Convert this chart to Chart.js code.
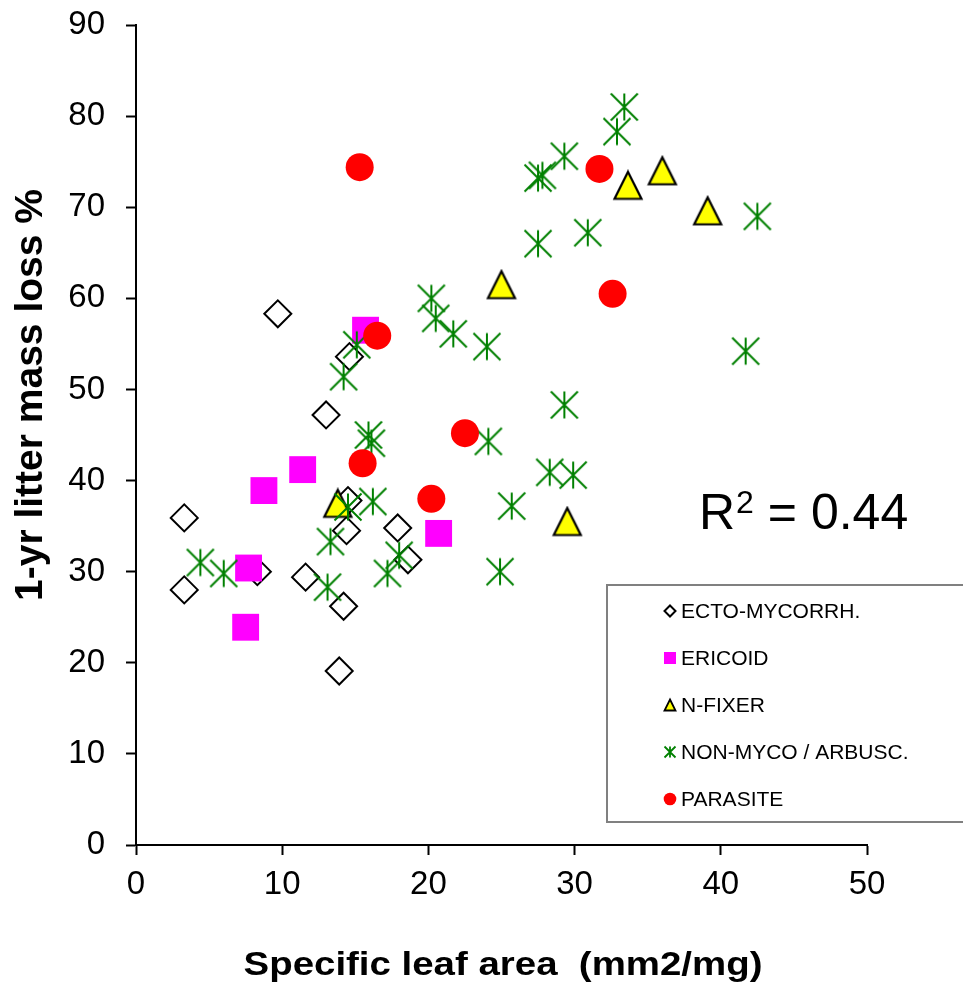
<!DOCTYPE html>
<html><head><meta charset="utf-8">
<script src="https://cdn.jsdelivr.net/npm/chart.js@4/dist/chart.umd.min.js"></script>
<style>html,body{margin:0;padding:0;background:#fff;}#wrap{width:963px;height:986px;position:relative;}canvas{display:block;}</style>
</head><body><div id="wrap"><canvas id="c" width="963" height="986"></canvas></div>
<script>
// ---- data ----
const seriesNames = ['ECTO-MYCORRH.', 'ERICOID', 'N-FIXER', 'NON-MYCO / ARBUSC.', 'PARASITE'];
const ectoX = [3.3, 3.3, 9.7, 8.3, 11.6, 13.0, 14.6, 13.9, 14.2, 14.4, 14.5, 17.9, 18.6];
const ectoY = [35.9, 28.0, 58.3, 30.0, 29.4, 47.2, 53.6, 19.1, 26.2, 34.5, 37.8, 34.8, 31.3];
const ericX = [8.75, 11.4, 7.7, 7.5, 15.7, 20.7];
const ericY = [38.9, 41.2, 30.4, 23.9, 56.5, 34.2];
const nfixX = [13.8, 25.0, 33.65, 36.0, 39.1, 29.5];
const nfixY = [37.5, 61.5, 72.4, 74.0, 69.6, 35.5];
const nonX = [4.4, 6.0, 13.3, 13.1, 14.2, 15.1, 15.9, 16.1, 14.5, 16.2, 18.0, 17.2, 20.2, 20.5, 21.7, 24.0, 29.3, 24.1, 28.3, 29.9, 25.7, 24.9, 27.5, 30.9, 27.5, 27.8, 29.3, 32.9, 33.4, 42.5, 41.7];
const nonY = [31.0, 29.8, 33.3, 28.3, 51.4, 54.9, 45.0, 44.1, 37.1, 37.7, 31.8, 29.8, 60.0, 57.8, 56.1, 54.7, 48.3, 44.3, 40.9, 40.6, 37.2, 30.0, 66.0, 67.2, 73.2, 73.5, 75.6, 78.3, 81.0, 69.0, 54.2];
const parX = [15.3, 16.5, 15.5, 22.5, 20.2, 31.7, 32.6];
const parY = [74.4, 55.9, 41.9, 45.2, 38.0, 74.2, 60.5];
const xTicks = [0, 10, 20, 30, 40, 50];
const yTicks = [0, 10, 20, 30, 40, 50, 60, 70, 80, 90];
const xTitle = 'Specific leaf area  (mm2/mg)';
const yTitle = '1-yr litter mass loss %';
const r2Main = 'R', r2Sup = '2', r2Rest = ' = 0.44';

function pts(xs, ys) { return xs.map((x, i) => ({x: x, y: ys[i]})); }

const FONT = "'Liberation Sans', Arial, sans-serif";
const GREEN = '#008000', MAGENTA = '#FF00FF', YELLOW = '#FFFF00', RED = '#FF0000';

function starPath(g, cx, cy, h, lw, color) {
  g.save(); g.strokeStyle = color; g.lineWidth = lw; g.lineCap = 'butt';
  g.beginPath();
  g.moveTo(cx, cy - h); g.lineTo(cx, cy + h);
  g.moveTo(cx - h, cy - h); g.lineTo(cx + h, cy + h);
  g.moveTo(cx + h, cy - h); g.lineTo(cx - h, cy + h);
  g.stroke(); g.restore();
}
function triPath(g, cx, cy, h, lw) {
  g.save(); g.fillStyle = YELLOW; g.strokeStyle = '#000'; g.lineWidth = lw; g.lineJoin = 'miter';
  g.beginPath(); g.moveTo(cx, cy - h); g.lineTo(cx + h, cy + h); g.lineTo(cx - h, cy + h); g.closePath();
  g.fill(); g.stroke(); g.restore();
}
function makeStar() {
  const c = document.createElement('canvas'); c.width = 30; c.height = 30;
  starPath(c.getContext('2d'), 15, 15, 13.5, 2, GREEN); return c;
}
function makeTri() {
  const c = document.createElement('canvas'); c.width = 32; c.height = 32;
  triPath(c.getContext('2d'), 16, 16, 13.5, 2.2); return c;
}
const starImg = makeStar(), triImg = makeTri();

const overlay = {
  id: 'overlay',
  afterDraw(chart) {
    const ctx = chart.ctx;
    ctx.save();
    ctx.fillStyle = '#000';
    ctx.save();
    ctx.translate(31, 395); ctx.rotate(-Math.PI / 2);
    ctx.font = 'bold 39px ' + FONT; ctx.textAlign = 'center'; ctx.textBaseline = 'middle';
    ctx.fillText(yTitle, 0, 0);
    ctx.restore();
    ctx.save();
    ctx.translate(503, 975); ctx.scale(1.13, 1);
    ctx.font = 'bold 34px ' + FONT; ctx.textAlign = 'center'; ctx.textBaseline = 'alphabetic';
    ctx.fillText(xTitle, 0, 0);
    ctx.restore();
    ctx.textAlign = 'left'; ctx.textBaseline = 'alphabetic';
    let x = 699;
    ctx.font = '50px ' + FONT; ctx.fillText(r2Main, x, 529); x += ctx.measureText(r2Main).width;
    ctx.font = '32px ' + FONT; ctx.fillText(r2Sup, x + 1, 513); x += ctx.measureText(r2Sup).width + 1;
    ctx.font = '50px ' + FONT; ctx.fillText(r2Rest, x, 529);
    ctx.strokeStyle = '#808080'; ctx.lineWidth = 2;
    ctx.strokeRect(607, 585, 370, 237);
    const rows = [611, 658, 705, 752, 799];
    const mx = 670;
    ctx.save(); ctx.strokeStyle = '#000'; ctx.lineWidth = 2; ctx.fillStyle = '#fff';
    ctx.beginPath(); ctx.moveTo(mx, rows[0] - 5.5); ctx.lineTo(mx + 5.5, rows[0]); ctx.lineTo(mx, rows[0] + 5.5); ctx.lineTo(mx - 5.5, rows[0]); ctx.closePath(); ctx.fill(); ctx.stroke(); ctx.restore();
    ctx.fillStyle = MAGENTA; ctx.fillRect(mx - 6, rows[1] - 6, 12, 12);
    triPath(ctx, mx, rows[2], 5.5, 1.8);
    starPath(ctx, mx, rows[3], 5.5, 1.8, GREEN);
    ctx.fillStyle = RED; ctx.beginPath(); ctx.arc(mx, rows[4], 6.3, 0, Math.PI * 2); ctx.fill();
    ctx.fillStyle = '#000'; ctx.font = '21px ' + FONT; ctx.textBaseline = 'middle';
    seriesNames.forEach((n, i) => ctx.fillText(n, 681, rows[i] + 1));
    ctx.restore();
  }
};

const tickFont = {family: FONT, size: 33};
new Chart(document.getElementById('c'), {
  type: 'scatter',
  data: {
    datasets: [
      {label: seriesNames[0], data: pts(ectoX, ectoY), order: 4, pointStyle: 'rectRot', pointRadius: 13.5, pointHoverRadius: 13.5, borderColor: '#000', backgroundColor: 'rgba(0,0,0,0)', pointBorderWidth: 2},
      {label: seriesNames[1], data: pts(ericX, ericY), order: 3, pointStyle: 'rect', pointRadius: 19, pointHoverRadius: 19, borderColor: MAGENTA, backgroundColor: MAGENTA, pointBorderWidth: 0},
      {label: seriesNames[2], data: pts(nfixX, nfixY), order: 2, pointStyle: triImg, pointRadius: 15},
      {label: seriesNames[3], data: pts(nonX, nonY), order: 1, pointStyle: starImg, pointRadius: 14},
      {label: seriesNames[4], data: pts(parX, parY), order: 0, pointStyle: 'circle', pointRadius: 14, pointHoverRadius: 14, borderColor: RED, backgroundColor: RED, pointBorderWidth: 0}
    ]
  },
  options: {
    responsive: false, animation: false, devicePixelRatio: 1,
    layout: {padding: {left: 0, top: 25, right: 96, bottom: 0}},
    plugins: {legend: {display: false}, tooltip: {enabled: false}, title: {display: false}},
    events: [],
    scales: {
      x: {
        type: 'linear', min: 0, max: 50,
        afterBuildTicks: s => { s.ticks = xTicks.map(v => ({value: v})); },
        afterFit: s => { s.height = 141; s.paddingLeft = 0; s.paddingRight = 0; },
        ticks: {font: tickFont, color: '#000', padding: 10, maxRotation: 0, autoSkip: false},
        grid: {display: true, drawOnChartArea: false, drawTicks: true, tickLength: 10, tickWidth: 2, tickColor: '#000'},
        border: {display: true, color: '#000', width: 2}
      },
      y: {
        type: 'linear', min: 0, max: 90,
        afterBuildTicks: s => { s.ticks = yTicks.map(v => ({value: v})); },
        afterFit: s => { s.width = 136; s.paddingTop = 0; s.paddingBottom = 0; },
        ticks: {font: tickFont, color: '#000', padding: 21, autoSkip: false},
        grid: {display: true, drawOnChartArea: false, drawTicks: true, tickLength: 10, tickWidth: 2, tickColor: '#000'},
        border: {display: true, color: '#000', width: 2}
      }
    }
  },
  plugins: [overlay]
});
</script></body></html>
